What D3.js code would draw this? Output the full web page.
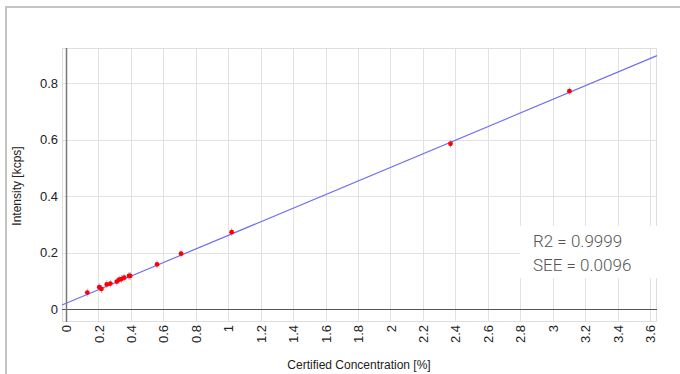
<!DOCTYPE html>
<meta charset="utf-8">
<script src="https://cdn.jsdelivr.net/npm/d3@7"></script>
<style>
body { margin: 0; background: #fff; }
text { font-family: "Liberation Sans", Arial, sans-serif; fill: #222; }
.grid line { stroke: #e2e2e2; stroke-width: 1px; }
.tick text { font-size: 13px; }
.note { font-family: Roboto, sans-serif; font-weight: 300; font-size: 17px; fill: #555; }
</style>
<body>
<script>

// measured standards
var concentration = [0.131, 0.205, 0.218, 0.251, 0.273, 0.313, 0.327, 0.341, 0.358, 0.388, 0.395, 0.561, 0.709, 1.021, 2.37, 3.103];
var intensity     = [0.058, 0.077, 0.071, 0.087, 0.090, 0.097, 0.104, 0.106, 0.111, 0.117, 0.117, 0.158, 0.196, 0.272, 0.585, 0.771];

// calibration line
var slope = 0.2407, intercept = 0.02;

var xTicks = [0, 0.2, 0.4, 0.6, 0.8, 1, 1.2, 1.4, 1.6, 1.8, 2, 2.2, 2.4, 2.6, 2.8, 3, 3.2, 3.4, 3.6];
var yTicks = [0, 0.2, 0.4, 0.6, 0.8];
var stats = ["R2 = 0.9999", "SEE = 0.0096"];

var width = 680, height = 374;
var plotLeft = 62, plotRight = 657, plotTop = 48, plotBottom = 322;

var svg = d3.select("body").append("svg")
    .attr("width", width)
    .attr("height", height);

// outer frame
svg.append("rect")
    .attr("x", 6).attr("y", 7)
    .attr("width", 700).attr("height", 400)
    .attr("fill", "none")
    .attr("stroke", "#c4c4c4")
    .attr("stroke-width", 2);

var x = d3.scaleLinear().domain([-0.025, 3.643]).range([plotLeft, plotRight]);
var y = d3.scaleLinear().domain([-0.046, 0.924]).range([plotBottom, plotTop]);

// grid
var grid = svg.append("g").attr("class", "grid");
grid.selectAll(".gx").data(xTicks).enter().append("line")
    .attr("x1", d => Math.round(x(d)) + 0.5).attr("x2", d => Math.round(x(d)) + 0.5)
    .attr("y1", plotTop).attr("y2", plotBottom);
grid.selectAll(".gy").data(yTicks).enter().append("line")
    .attr("y1", d => Math.round(y(d)) + 0.5).attr("y2", d => Math.round(y(d)) + 0.5)
    .attr("x1", plotLeft).attr("x2", plotRight);
svg.append("rect")
    .attr("x", plotLeft + 0.5).attr("y", plotTop + 0.5)
    .attr("width", plotRight - plotLeft - 1).attr("height", plotBottom - plotTop - 1)
    .attr("fill", "none").attr("stroke", "#dedede");

// axes
var xAxis = d3.axisBottom(x).tickValues(xTicks).tickSize(0).tickPadding(0).tickFormat(d3.format("~g"));
var gx = svg.append("g").attr("transform", "translate(0," + plotBottom + ")").call(xAxis);
gx.select(".domain").remove();
gx.selectAll("text")
    .attr("transform", "rotate(-90)")
    .attr("x", -3).attr("y", 0).attr("dy", "0.35em")
    .style("text-anchor", "end");

var yAxis = d3.axisLeft(y).tickValues(yTicks).tickSize(0).tickPadding(4).tickFormat(d3.format("~g"));
var gy = svg.append("g").attr("transform", "translate(" + plotLeft + ",0)").call(yAxis);
gy.select(".domain").remove();

// zero lines
svg.append("line")
    .attr("x1", plotLeft).attr("x2", plotRight)
    .attr("y1", Math.round(y(0)) + 0.5).attr("y2", Math.round(y(0)) + 0.5)
    .attr("stroke", "#555");
svg.append("line")
    .attr("x1", Math.round(x(0)) + 0.5).attr("x2", Math.round(x(0)) + 0.5)
    .attr("y1", plotTop).attr("y2", plotBottom)
    .attr("stroke", "#777").attr("stroke-width", 1.5);

// fit line
svg.append("line")
    .attr("x1", x(-0.025)).attr("y1", y(intercept + slope * -0.025))
    .attr("x2", x(3.643)).attr("y2", y(intercept + slope * 3.643))
    .attr("stroke", "#6f6ff2").attr("stroke-width", 1.2);

// points
var pts = concentration.map((c, i) => ({c: c, v: intensity[i]}));
svg.append("g").selectAll("line").data(pts).enter().append("line")
    .attr("x1", d => x(d.c)).attr("x2", d => x(d.c))
    .attr("y1", d => y(d.v) - 4).attr("y2", d => y(d.v) + 4)
    .attr("stroke", "#9fb8ee").attr("stroke-width", 1);
svg.append("g").selectAll("circle").data(pts).enter().append("circle")
    .attr("cx", d => x(d.c)).attr("cy", d => y(d.v))
    .attr("r", 2.4).attr("fill", "#f00");

// axis titles
svg.append("text")
    .attr("transform", "translate(21,186) rotate(-90)")
    .attr("text-anchor", "middle")
    .style("font-size", "12px")
    .text("Intensity [kcps]");
svg.append("text")
    .attr("x", 359).attr("y", 369)
    .attr("text-anchor", "middle")
    .style("font-size", "12px")
    .text("Certified Concentration [%]");

// stats box
svg.append("rect")
    .attr("x", 520).attr("y", 226).attr("width", 137).attr("height", 52)
    .attr("fill", "#fff");
svg.selectAll(".note").data(stats).enter().append("text")
    .attr("class", "note")
    .attr("x", 533).attr("y", (d, i) => 247 + i * 24)
    .text(d => d);

</script>
</body>
